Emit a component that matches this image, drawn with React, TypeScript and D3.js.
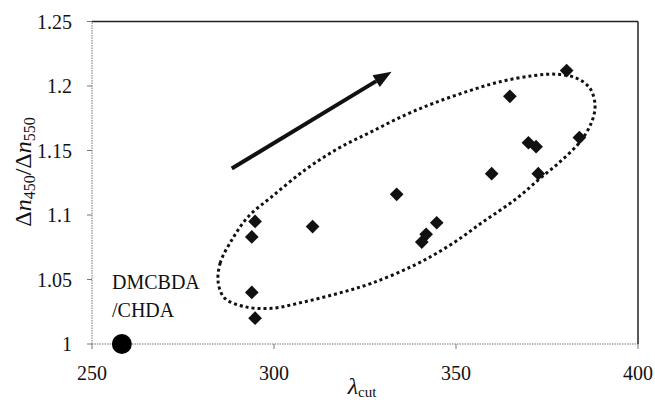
import React from 'react';
import * as d3 from 'd3';

// values
const lambdaCut = [380.4, 364.8, 383.9, 369.9, 372.0, 359.8, 372.6, 333.7, 294.8, 293.9, 310.6, 344.7, 341.8, 340.6, 293.9, 294.8];
const dnRatio = [1.212, 1.192, 1.160, 1.156, 1.153, 1.132, 1.132, 1.116, 1.095, 1.083, 1.091, 1.094, 1.085, 1.079, 1.040, 1.020];
const refLambda = [258.2];
const refRatio = [1.0];
const xTicks = [250, 300, 350, 400];
const yTicks = [1, 1.05, 1.1, 1.15, 1.2, 1.25];
const arrowFrom = [288.4, 1.136];
const arrowTo = [332.3, 1.211];
// dotted outline round the cluster (lambda, ratio)
const outlineX = [284.7, 285.2, 288.4, 292.9, 299.4, 308.5, 317.7, 326.8, 336.0, 343.8, 352.9, 362.1, 371.2, 377.7, 383.2, 386.8, 388.2, 387.3, 384.1, 378.6, 373.1, 366.7, 357.5, 348.4, 338.5, 326.8, 317.7, 308.5, 299.4, 292.0, 286.5];
const outlineY = [1.0471, 1.0626, 1.0806, 1.0987, 1.1142, 1.1349, 1.1517, 1.1646, 1.1775, 1.1866, 1.1956, 1.2033, 1.2080, 1.2091, 1.2060, 1.1982, 1.1853, 1.1723, 1.1568, 1.1413, 1.1284, 1.1129, 1.0948, 1.0767, 1.0610, 1.0471, 1.0393, 1.0328, 1.0277, 1.0289, 1.0354];

const W = 655;
const H = 402;
const m = { top: 21.5, right: 17, bottom: 58, left: 92 };

export default function App() {
  const x = d3.scaleLinear().domain([250, 400]).range([m.left, W - m.right]);
  const y = d3.scaleLinear().domain([1, 1.25]).range([H - m.bottom, m.top]);
  const font = 'Liberation Serif, Times New Roman, serif';

  const outline = d3.line<number>()
    .x(i => x(outlineX[i]))
    .y(i => y(outlineY[i]))
    .curve(d3.curveCatmullRomClosed)(d3.range(outlineX.length)) || '';

  // arrow
  const ax0 = x(arrowFrom[0]), ay0 = y(arrowFrom[1]);
  const ax1 = x(arrowTo[0]), ay1 = y(arrowTo[1]);
  const a = Math.atan2(ay1 - ay0, ax1 - ax0);
  const hl = 18, hw = 7;
  const bx = ax1 - hl * Math.cos(a), by = ay1 - hl * Math.sin(a);
  const head = [
    [ax1, ay1],
    [bx + hw * Math.sin(a), by - hw * Math.cos(a)],
    [bx - hw * Math.sin(a), by + hw * Math.cos(a)],
  ];

  const diamond = d3.symbol().type(d3.symbolDiamond2).size(120)() || '';

  const x0 = m.left, x1 = W - m.right, y0 = H - m.bottom, y1 = m.top;

  return (
    <svg width={W} height={H} style={{ position: 'absolute', left: 0, top: 0, background: '#fff' }} fontFamily={font}>
      {/* frame */}
      <line x1={x0} x2={x1} y1={y0} y2={y0} stroke="#777" strokeWidth={1} strokeDasharray="1.5 1" />
      <line x1={x0} x2={x0} y1={y0} y2={y1} stroke="#777" strokeWidth={1} strokeDasharray="1.5 1" />
      <line x1={x0} x2={x1} y1={y1} y2={y1} stroke="#222" strokeWidth={1.5} />
      <line x1={x1} x2={x1} y1={y1} y2={y0} stroke="#222" strokeWidth={1.5} />

      {xTicks.map(t => (
        <g key={'x' + t}>
          <line x1={x(t)} x2={x(t)} y1={y0} y2={y0 + 5} stroke="#777" />
          <text x={x(t)} y={y0 + 36} textAnchor="middle" fontSize={20} fill="#111">{t}</text>
        </g>
      ))}
      {yTicks.map(t => (
        <g key={'y' + t}>
          <line x1={x0 - 5} x2={x0} y1={y(t)} y2={y(t)} stroke="#777" />
          <text x={72} y={y(t) + 7} textAnchor="end" fontSize={20} fill="#111">{d3.format('')(t)}</text>
        </g>
      ))}

      {/* axis titles */}
      <text x={362} y={394} textAnchor="middle" fontSize={24} fill="#111">
        <tspan fontStyle="italic">λ</tspan>
        <tspan fontSize={15} dy={3}>cut</tspan>
      </text>
      <text transform="translate(31,172) rotate(-90)" textAnchor="middle" fontSize={24} fill="#111">
        <tspan>Δ</tspan>
        <tspan fontStyle="italic">n</tspan>
        <tspan fontSize={16} dy={4}>450</tspan>
        <tspan dy={-4}>/Δ</tspan>
        <tspan fontStyle="italic">n</tspan>
        <tspan fontSize={16} dy={4}>550</tspan>
      </text>

      {/* outline and arrow */}
      <path d={outline} fill="none" stroke="#111" strokeWidth={3} strokeDasharray="3 3" />
      <line x1={ax0} y1={ay0} x2={bx} y2={by} stroke="#111" strokeWidth={4} />
      <polygon points={head.map(p => p.join(',')).join(' ')} fill="#111" />

      {/* points */}
      {lambdaCut.map((v, i) => (
        <path key={i} d={diamond} transform={`translate(${x(v)},${y(dnRatio[i])})`} fill="#111" />
      ))}
      {refLambda.map((v, i) => (
        <circle key={'r' + i} cx={x(v)} cy={y(refRatio[i])} r={10} fill="#000" />
      ))}
      <text x={112} y={289} fontSize={20} fill="#111">DMCBDA</text>
      <text x={112} y={317} fontSize={20} fill="#111">/CHDA</text>
    </svg>
  );
}
